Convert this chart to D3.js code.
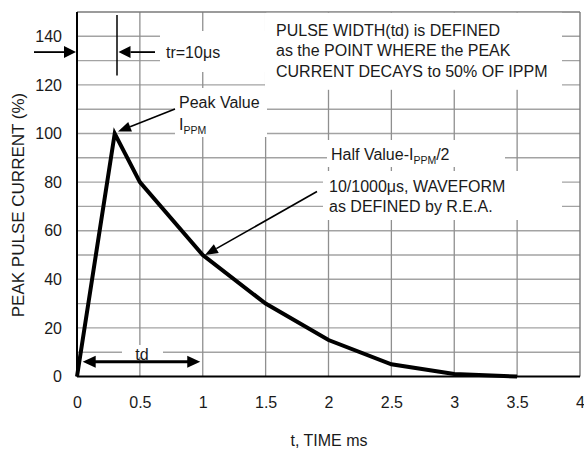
<!DOCTYPE html>
<html>
<head>
<meta charset="utf-8">
<script src="https://cdn.jsdelivr.net/npm/d3@7"></script>
<style>
  html, body { margin: 0; padding: 0; background: #fff; }
  svg { display: block; }
  text { font-family: "Liberation Sans", Arial, sans-serif; fill: #1a1a1a; }
</style>
</head>
<body>
<svg id="chart" width="584" height="452"></svg>
<script>
// ---- data ----
const timeMs = [0, 0.3, 0.5, 1, 1.5, 2, 2.5, 3, 3.5];
const currentPct = [0, 100, 80, 50, 30, 15, 5, 1, 0];
const xTickValues = [0, 0.5, 1, 1.5, 2, 2.5, 3, 3.5, 4];
const xTickLabels = ["0", "0.5", "1", "1.5", "2", "2.5", "3", "3.5", "4"];
const yTickValues = [0, 20, 40, 60, 80, 100, 120, 140];
const yTickLabels = ["0", "20", "40", "60", "80", "100", "120", "140"];
const xGridValues = [0.5, 1, 1.5, 2, 2.5, 3, 3.5];
const yGridValues = [10, 20, 30, 40, 50, 60, 70, 80, 90, 100, 110, 120, 130, 140];
const xTitle = "t, TIME ms";
const yTitle = "PEAK PULSE CURRENT (%)";
const noteLines = ["PULSE WIDTH(td) is DEFINED", "as the POINT WHERE the PEAK", "CURRENT DECAYS to 50% OF IPPM"];
const waveLines = ["10/1000\u03bcs, WAVEFORM", "as DEFINED by R.E.A."];

// ---- layout ----
const svg = d3.select("#chart");
const x = d3.scaleLinear().domain([0, 4]).range([77, 580]);
const y = d3.scaleLinear().domain([0, 150]).range([376.5, 12]);

// grid
const grid = svg.append("g");
grid.selectAll("line.h").data(yGridValues).join("line")
  .attr("x1", x(0)).attr("x2", x(4))
  .attr("y1", d => y(d)).attr("y2", d => y(d))
  .attr("stroke", "#a3a3a3").attr("stroke-width", 1.4);
grid.selectAll("line.v").data(xGridValues).join("line")
  .attr("x1", d => x(d)).attr("x2", d => x(d))
  .attr("y1", y(0)).attr("y2", y(150))
  .attr("stroke", "#8f8f8f").attr("stroke-width", 1.3);
// top and right border
svg.append("line").attr("x1", x(0)).attr("x2", x(4)).attr("y1", y(150)).attr("y2", y(150))
  .attr("stroke", "#7a7a7a").attr("stroke-width", 1.4);
svg.append("line").attr("x1", x(4)).attr("x2", x(4)).attr("y1", y(0)).attr("y2", y(150))
  .attr("stroke", "#7a7a7a").attr("stroke-width", 1.4);

// white label backgrounds (break gridlines)
const boxes = [
  [160, 31, 108, 41],   // tr
  [265, 12.8, 297, 77], // note
  [175, 88, 92, 49],    // peak
  [327, 140, 178, 27],  // half
  [323, 171, 239, 49],  // waveform
  [122, 345, 41, 12]    // td
];
svg.append("g").selectAll("rect").data(boxes).join("rect")
  .attr("x", d => d[0]).attr("y", d => d[1]).attr("width", d => d[2]).attr("height", d => d[3])
  .attr("fill", "#fff");

// axes
const xAxis = d3.axisBottom(x).tickValues(xTickValues).tickFormat((d, i) => xTickLabels[i]).tickSize(0).tickPadding(20);
const yAxis = d3.axisLeft(y).tickValues(yTickValues).tickFormat((d, i) => yTickLabels[i]).tickSize(0).tickPadding(15);
const gx = svg.append("g").attr("transform", `translate(0,${y(0)})`).call(xAxis);
const gy = svg.append("g").attr("transform", `translate(${x(0)},0)`).call(yAxis);
[gx, gy].forEach(g => {
  g.select(".domain").attr("stroke", "#000").attr("stroke-width", 2);
  g.selectAll("text").attr("font-size", 16).attr("font-family", "Liberation Sans, Arial, sans-serif").attr("fill", "#1a1a1a");
});
gx.select(".domain").attr("d", `M${x(0)},0H${x(4)}`);
gy.select(".domain").attr("d", `M0,${y(0)}V${y(150)}`);

// titles
svg.append("text").attr("x", 329).attr("y", 446).attr("text-anchor", "middle")
  .attr("font-size", 16).text(xTitle);
svg.append("text").attr("transform", "translate(24,205) rotate(-90)").attr("text-anchor", "middle")
  .attr("font-size", 17).text(yTitle);

// curve
const pts = timeMs.map((t, i) => [t, currentPct[i]]);
svg.append("path").datum(pts)
  .attr("d", d3.line().x(d => x(d[0])).y(d => y(d[1])))
  .attr("fill", "none").attr("stroke", "#000").attr("stroke-width", 4)
  .attr("stroke-linejoin", "miter").attr("stroke-linecap", "butt");

// arrows
function head(g, x1, y1, x2, y2, len, w) {
  const a = Math.atan2(y2 - y1, x2 - x1);
  const bx = x2 - len * Math.cos(a), by = y2 - len * Math.sin(a);
  const px = -Math.sin(a) * w / 2, py = Math.cos(a) * w / 2;
  g.append("path").attr("d", `M${x2},${y2}L${bx + px},${by + py}L${bx - px},${by - py}Z`).attr("fill", "#000");
  return [bx, by];
}
function arrow(x1, y1, x2, y2, len, w, sw) {
  const g = svg.append("g");
  const [bx, by] = head(g, x1, y1, x2, y2, len, w);
  g.append("line").attr("x1", x1).attr("y1", y1).attr("x2", bx).attr("y2", by)
    .attr("stroke", "#000").attr("stroke-width", sw);
}
const trY = y(133.5);
arrow(34, trY, x(0) - 1, trY, 12, 12, 1.8);
arrow(155, trY, 118.5, trY, 12, 12, 1.8);
svg.append("line").attr("x1", 117).attr("x2", 117).attr("y1", 15).attr("y2", 75.5)
  .attr("stroke", "#000").attr("stroke-width", 1.5);
arrow(175, 109, 118, 131.5, 13, 10, 1.6);
arrow(317, 191.5, 205, 255, 13, 10, 1.6);
// td double arrow
{
  const g = svg.append("g");
  const ty = y(6.1), xa = x(0.045), xb = x(0.98);
  head(g, xb, ty, xa, ty, 13, 12);
  head(g, xa, ty, xb, ty, 13, 12);
  g.append("line").attr("x1", xa + 12).attr("x2", xb - 12).attr("y1", ty).attr("y2", ty)
    .attr("stroke", "#000").attr("stroke-width", 3);
}

// annotation texts
svg.append("text").attr("x", 166).attr("y", 58).attr("font-size", 16).text("tr=10\u03bcs");
svg.append("text").attr("x", 142).attr("y", 359.5).attr("text-anchor", "middle").attr("font-size", 16).text("td");
svg.append("g").selectAll("text").data(noteLines).join("text")
  .attr("x", 276).attr("y", (d, i) => 36 + i * 20.4).attr("font-size", 16).text(d => d);
svg.append("text").attr("x", 179).attr("y", 108).attr("font-size", 16).text("Peak Value");
{
  const t = svg.append("text").attr("x", 179).attr("y", 129.5).attr("font-size", 16);
  t.append("tspan").text("I");
  t.append("tspan").attr("font-size", 10.5).attr("dy", 4).text("PPM");
}
{
  const t = svg.append("text").attr("x", 331).attr("y", 159.5).attr("font-size", 16);
  t.append("tspan").text("Half Value-I");
  t.append("tspan").attr("font-size", 10.5).attr("dy", 4).text("PPM");
  t.append("tspan").attr("dy", -4).text("/2");
}
svg.append("g").selectAll("text").data(waveLines).join("text")
  .attr("x", 329).attr("y", (d, i) => 192 + i * 20).attr("font-size", 16).text(d => d);
</script>
</body>
</html>
